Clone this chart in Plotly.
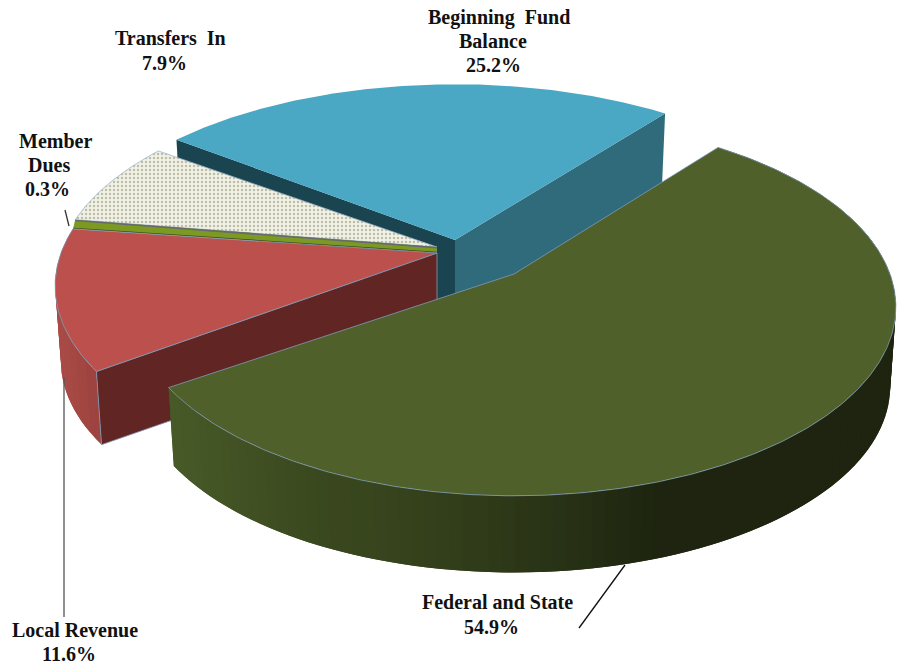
import numpy as np
import plotly.graph_objects as go

# ---- data (clockwise from the start angle) ----
categories = ["Beginning  Fund<br>Balance", "Federal and State", "Local Revenue", "Member<br>Dues", "Transfers  In"]
values = [25.2, 54.9, 11.6, 0.3, 7.9]

# ---- projection settings ----
START = -52.7
A, B, P = 376.0, 183.0, 0.175
SHRINK = 0.985
apex_x = [455, 514, 437, 437, 437]
apex_y = [240, 274, 253, 250, 247]
depth = [72, 80, 75, 0, 0]
x_scale = [1.03, 1.0, 1.0, 1.0, 1.0]
trim_start = [0, 0, -1.5, 0, 0]
trim_end = [0, 0, 0, 0, -2]
top_col = ["#4AA8C4", "#50602A", "#BC504C", "#7C9A22", "#F1F1E6"]


def rim(th, i):
    t = np.radians(th)
    X, Y = np.sin(t), np.cos(t)
    w = 1 + P * Y
    return apex_x[i] + x_scale[i] * A * X / w, apex_y[i] - B * Y / w


def lower(x, y, i):
    return apex_x[i] + (x - apex_x[i]) * SHRINK, apex_y[i] + (y - apex_y[i]) * SHRINK + depth[i]


def lerp_col(stops, x):
    xs = [s[0] for s in stops]
    return "rgb(%d,%d,%d)" % tuple(np.interp(x, xs, [s[1][i] for s in stops]) for i in range(3))


fig = go.Figure()


def poly(xs, ys, color, line=None, lw=0.8, **kw):
    fig.add_trace(go.Scatter(
        x=list(xs), y=list(ys), mode="lines", fill="toself", fillcolor=color,
        line=dict(color=line or color, width=lw if line else 0),
        hoverinfo="skip", showlegend=False, **kw))


total = sum(values)
edges = START + np.cumsum([0] + values) * 360.0 / total
th0 = [edges[i] + trim_start[i] for i in range(5)]
th1 = [edges[i + 1] + trim_end[i] for i in range(5)]
EDGE = "#7F9AB8"


def top_face(i, **kw):
    th = np.linspace(th0[i], th1[i], max(4, int(values[i] * 6)))
    x, y = rim(th, i)
    poly(np.r_[apex_x[i], x, apex_x[i]], np.r_[apex_y[i], y, apex_y[i]], top_col[i], **kw)


def cut_wall(i, th, color, line=None):
    x, y = rim(th, i)
    xb, yb = lower(x, y, i)
    poly([apex_x[i], x, xb, apex_x[i], apex_x[i]],
         [apex_y[i], y, yb, apex_y[i] + depth[i], apex_y[i]], color, line=line)


def rim_wall(i, stops, n):
    th = np.linspace(th0[i], th1[i], n + 1)
    step = th[1] - th[0]
    for a in th[:-1]:
        tt = np.linspace(a, min(a + 2 * step, th1[i]), 5)
        x, y = rim(tt, i)
        xb, yb = lower(x, y, i)
        poly(np.r_[x, xb[::-1]], np.r_[y, yb[::-1]], lerp_col(stops, x.mean()))


# Beginning Fund Balance
cut_wall(0, th0[0], "#1A4450")
cut_wall(0, th1[0], "#306B7C")
top_face(0)

# Transfers In
top_face(4, line="#9DB4CC", fillpattern=dict(shape=".", bgcolor="#F1F1E6", fgcolor="#858A68", size=4, solidity=0.3))

# Member Dues: a thin band between its two neighbours
xa, ya = rim(th1[2], 2)
xb_, yb_ = rim(th0[4], 4)
poly([apex_x[2], xa, xb_, apex_x[4], apex_x[2]], [apex_y[2], ya, yb_, apex_y[4], apex_y[2]], top_col[3])
fig.add_trace(go.Scatter(x=[apex_x[4], xb_], y=[apex_y[4] + 0.8, yb_ + 0.8], mode="lines",
                         line=dict(color="#666A70", width=1.6), hoverinfo="skip", showlegend=False))
fig.add_trace(go.Scatter(x=[apex_x[2], xa], y=[apex_y[2] - 0.7, ya - 0.7], mode="lines",
                         line=dict(color="#3F4A1C", width=1.1), hoverinfo="skip", showlegend=False))

# Local Revenue
rim_wall(2, [(50, (172, 76, 72)), (110, (150, 64, 60))], 12)
cut_wall(2, th0[2], "#612624", line=EDGE)
top_face(2, line=EDGE)

# Federal and State
rim_wall(1, [(170, (72, 90, 40)), (300, (60, 74, 32)), (430, (52, 64, 27)),
             (560, (40, 50, 22)), (650, (30, 37, 16)), (900, (30, 36, 15))], 120)
top_face(1, line=EDGE)

# Leader lines
leader_x = [[64, 64], [625, 579], [65, 69]]
leader_y = [[377, 617], [565, 628], [210, 226]]
leader_c = ["#555555", "#111111", "#333333"]
for lx, ly, lc in zip(leader_x, leader_y, leader_c):
    fig.add_trace(go.Scatter(x=lx, y=ly, mode="lines", line=dict(color=lc, width=1.3),
                             hoverinfo="skip", showlegend=False))

# Labels, one line at a time
line_x = [[499, 493, 493], [497, 491], [75, 69], [55, 49, 47], [170, 164]]
line_y = [[17, 41, 65], [602, 627], [630, 654], [141, 165, 189], [38, 63]]
for name, v, xs, ys in zip(categories, values, line_x, line_y):
    for txt, lx, ly in zip(name.split("<br>") + [f"{v}%"], xs, ys):
        fig.add_annotation(x=lx, y=ly, text=f"<b>{txt}</b>", showarrow=False,
                           font=dict(family="Liberation Serif", size=20, color="#111111"),
                           xanchor="center", yanchor="middle")

fig.update_layout(
    width=905, height=664, margin=dict(l=0, r=0, t=0, b=0),
    paper_bgcolor="white", plot_bgcolor="white",
    xaxis=dict(range=[0, 905], visible=False, fixedrange=True),
    yaxis=dict(range=[664, 0], visible=False, fixedrange=True),
)
fig.write_html("out.html", config=dict(displayModeBar=False),
               post_script="document.body.style.margin='0';document.documentElement.style.overflow='hidden';")
